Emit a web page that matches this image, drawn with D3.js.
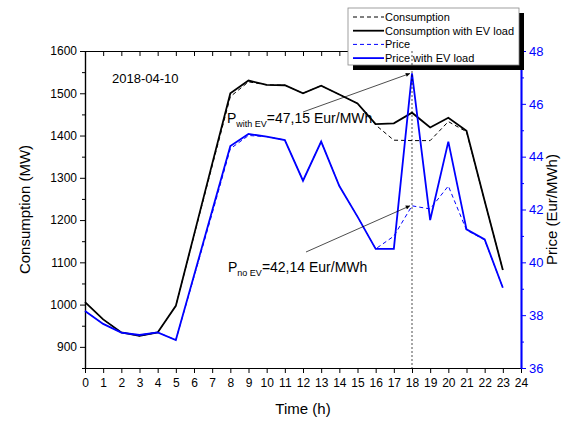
<!DOCTYPE html>
<html>
<head>
<meta charset="utf-8">
<script src="https://cdn.jsdelivr.net/npm/d3@7"></script>
<style>
  body { margin: 0; background: #fff; }
  text { font-family: "Liberation Sans", Arial, sans-serif; }
</style>
</head>
<body>
<script>
// data
const hours = d3.range(0, 24);
const consumption = [1006, 965, 934, 926, 934, 997, 1163, 1328, 1492, 1527, 1520, 1519, 1500, 1518, 1497, 1476, 1425, 1389, 1388, 1388, 1433, 1409, 1245, 1082];
const consumptionEV = [1006, 965, 934, 926, 934, 997, 1165, 1333, 1500, 1530, 1520, 1519, 1500, 1518, 1497, 1476, 1427, 1429, 1454, 1419, 1442, 1411, 1245, 1082];
const price = [38.16, 37.67, 37.34, 37.25, 37.35, 37.06, 39.45, 41.85, 44.3, 44.8, 44.76, 44.63, 43.09, 44.57, 42.89, 41.73, 40.51, 40.99, 42.14, 42.02, 42.89, 41.22, 40.85, 39.04];
const priceEV = [38.16, 37.67, 37.34, 37.25, 37.35, 37.06, 39.5, 41.95, 44.4, 44.86, 44.76, 44.63, 43.09, 44.57, 42.89, 41.73, 40.51, 40.51, 47.15, 41.6, 44.57, 41.25, 40.87, 39.04];
const xTicks = d3.range(0, 25);
const leftTicks = d3.range(900, 1601, 100);
const rightTicks = d3.range(36, 49, 2);
const legendLabels = ["Consumption", "Consumption with EV load", "Price", "Price with EV load"];
const peakHour = 18;

const width = 575, height = 426;
const pLeft = 85, pRight = 521, pTop = 51, pBottom = 368;
const blue = "#0000ff";

const svg = d3.select("body").append("svg")
  .attr("width", width)
  .attr("height", height);

const x = d3.scaleLinear().domain([0, 24]).range([pLeft, pRight]);
const yL = d3.scaleLinear().domain([850, 1600]).range([pBottom, pTop]);
const yR = d3.scaleLinear().domain([36, 48]).range([pBottom, pTop]);

// bottom axis
const xAxis = svg.append("g")
  .attr("transform", `translate(0,${pBottom})`)
  .call(d3.axisBottom(x).tickValues(xTicks).tickFormat(d3.format("d")).tickSize(5).tickSizeOuter(0));
xAxis.selectAll("text").attr("font-size", 12).attr("dy", "0.95em").attr("fill", "#000");

// top axis, ticks inward
svg.append("g")
  .attr("transform", `translate(0,${pTop})`)
  .call(d3.axisBottom(x).tickValues(xTicks).tickFormat("").tickSize(5).tickSizeOuter(0));

// left axis
const yAxisL = svg.append("g")
  .attr("transform", `translate(${pLeft},0)`)
  .call(d3.axisLeft(yL).tickValues(leftTicks).tickFormat(d3.format("d")).tickSize(5).tickSizeOuter(0));
yAxisL.selectAll("text").attr("font-size", 12).attr("fill", "#000");
svg.append("g")
  .attr("transform", `translate(${pLeft},0)`)
  .call(d3.axisLeft(yL).tickValues(d3.range(850, 1600, 100)).tickFormat("").tickSize(3).tickSizeOuter(0));

// right axis
const yAxisR = svg.append("g")
  .attr("transform", `translate(${pRight},0)`)
  .call(d3.axisRight(yR).tickValues(rightTicks).tickSize(5).tickSizeOuter(0));
yAxisR.selectAll("text").attr("font-size", 13).attr("fill", blue);
yAxisR.selectAll("line").attr("stroke", blue);
svg.append("g")
  .attr("transform", `translate(${pRight},0)`)
  .call(d3.axisRight(yR).tickValues(d3.range(37, 48, 2)).tickFormat("").tickSize(3).tickSizeOuter(0))
  .selectAll("line, path").attr("stroke", blue);

svg.selectAll(".domain").attr("stroke-width", 1.2);
yAxisR.select(".domain").attr("stroke", blue).attr("stroke-width", 2);

// lines
const lineL = (vals) => d3.line().x((d, i) => x(hours[i])).y((d) => yL(d))(vals);
const lineR = (vals) => d3.line().x((d, i) => x(hours[i])).y((d) => yR(d))(vals);

svg.append("path").attr("d", lineL(consumption))
  .attr("fill", "none").attr("stroke", "#000").attr("stroke-width", 1).attr("stroke-dasharray", "4,3");
svg.append("path").attr("d", lineL(consumptionEV))
  .attr("fill", "none").attr("stroke", "#000").attr("stroke-width", 1.8);
svg.append("path").attr("d", lineR(price))
  .attr("fill", "none").attr("stroke", blue).attr("stroke-width", 1).attr("stroke-dasharray", "4,3");
svg.append("path").attr("d", lineR(priceEV))
  .attr("fill", "none").attr("stroke", blue).attr("stroke-width", 1.8);

// date label
svg.append("text")
  .attr("x", 112).attr("y", 83)
  .attr("font-size", 13)
  .text("2018-04-10");

// arrow marker
svg.append("defs").append("marker")
  .attr("id", "arrow")
  .attr("viewBox", "0 0 10 10")
  .attr("refX", 10).attr("refY", 5)
  .attr("markerWidth", 8).attr("markerHeight", 6)
  .attr("orient", "auto")
  .append("path").attr("d", "M0,0L10,5L0,10Z").attr("fill", "#000");

// annotations
const notes = [
  { sub: "with EV", val: "=47,15 Eur/MWh", tx: 227, ty: 123, from: [303, 112], p: priceEV[peakHour] },
  { sub: "no EV", val: "=42,14 Eur/MWh", tx: 228, ty: 272, from: [306, 252], p: price[peakHour] },
];
notes.forEach((n) => {
  const t = svg.append("text").attr("x", n.tx).attr("y", n.ty).attr("font-size", 14);
  t.append("tspan").text("P");
  t.append("tspan").attr("font-size", 9).attr("dy", 4).text(n.sub);
  t.append("tspan").attr("dy", -4).text(n.val);
  svg.append("line")
    .attr("x1", n.from[0]).attr("y1", n.from[1])
    .attr("x2", x(peakHour) - 2).attr("y2", yR(n.p))
    .attr("stroke", "#000").attr("stroke-width", 0.7)
    .attr("marker-end", "url(#arrow)");
});

// legend with shadow
const lg = svg.append("g").attr("transform", "translate(348,8)");
lg.append("rect").attr("x", 5).attr("y", 5).attr("width", 171).attr("height", 57).attr("fill", "#000");
lg.append("rect").attr("width", 171).attr("height", 57).attr("fill", "#fff").attr("stroke", "#888").attr("stroke-width", 0.8);
const styles = [
  { c: "#000", dash: "4,3", w: 1 },
  { c: "#000", dash: null, w: 1.8 },
  { c: blue, dash: "4,3", w: 1 },
  { c: blue, dash: null, w: 1.8 },
];
legendLabels.forEach((lab, i) => {
  const yy = 9 + i * 13.7;
  lg.append("line").attr("x1", 5).attr("x2", 36).attr("y1", yy).attr("y2", yy)
    .attr("stroke", styles[i].c).attr("stroke-width", styles[i].w)
    .attr("stroke-dasharray", styles[i].dash);
  lg.append("text").attr("x", 37).attr("y", yy + 4).attr("font-size", 11).text(lab);
});

// vertical marker at peak hour
svg.append("line")
  .attr("x1", x(peakHour)).attr("x2", x(peakHour))
  .attr("y1", pTop).attr("y2", pBottom)
  .attr("stroke", "#000").attr("stroke-width", 0.7).attr("stroke-dasharray", "2,2");

// axis titles
svg.append("text")
  .attr("x", x(12)).attr("y", 414)
  .attr("text-anchor", "middle").attr("font-size", 15)
  .text("Time (h)");
svg.append("text")
  .attr("transform", `translate(30,${(pTop + pBottom) / 2}) rotate(-90)`)
  .attr("text-anchor", "middle").attr("font-size", 15)
  .text("Consumption (MW)");
svg.append("text")
  .attr("transform", `translate(557,${(pTop + pBottom) / 2}) rotate(-90)`)
  .attr("text-anchor", "middle").attr("font-size", 15)
  .text("Price (Eur/MWh)");
</script>
</body>
</html>
